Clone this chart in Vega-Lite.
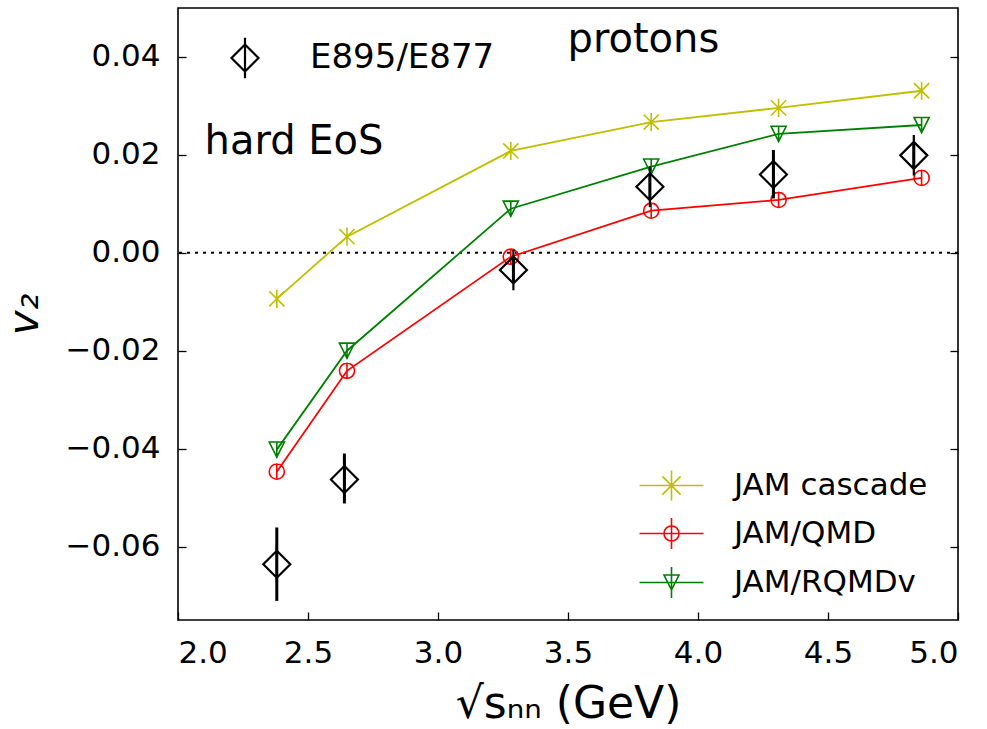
{
 "$schema": "https://vega.github.io/schema/vega-lite/v6.json",
 "width": 780,
 "height": 612,
 "autosize": "none",
 "padding": {"left": 178, "top": 8, "right": 29, "bottom": 109},
 "background": "white",
 "config": {
  "font": "DejaVu Sans",
  "view": {"stroke": "black", "strokeWidth": 1.6},
  "axis": {"grid": false, "domain": false, "ticks": true, "tickColor": "black", "tickWidth": 1.3, "tickSize": -8, "labelColor": "black", "labelFont": "DejaVu Sans", "labelFontSize": 31, "titleFont": "DejaVu Sans", "titleColor": "black", "titleFontWeight": "normal"},
  "legend": {"labelFont": "DejaVu Sans", "labelColor": "black", "labelLimit": 0}
 },
 "datasets": {
  "models": [
   {"model": "JAM cascade", "x": 2.38, "y": -0.0094},
   {"model": "JAM cascade", "x": 2.65, "y": 0.0033},
   {"model": "JAM cascade", "x": 3.28, "y": 0.0208},
   {"model": "JAM cascade", "x": 3.82, "y": 0.0267},
   {"model": "JAM cascade", "x": 4.31, "y": 0.0296},
   {"model": "JAM cascade", "x": 4.86, "y": 0.0331},
   {"model": "JAM/QMD", "x": 2.38, "y": -0.0447},
   {"model": "JAM/QMD", "x": 2.65, "y": -0.0241},
   {"model": "JAM/QMD", "x": 3.28, "y": -0.0008},
   {"model": "JAM/QMD", "x": 3.82, "y": 0.0086},
   {"model": "JAM/QMD", "x": 4.31, "y": 0.0108},
   {"model": "JAM/QMD", "x": 4.86, "y": 0.0153},
   {"model": "JAM/RQMDv", "x": 2.38, "y": -0.0402},
   {"model": "JAM/RQMDv", "x": 2.65, "y": -0.0200},
   {"model": "JAM/RQMDv", "x": 3.28, "y": 0.0090},
   {"model": "JAM/RQMDv", "x": 3.82, "y": 0.0176},
   {"model": "JAM/RQMDv", "x": 4.31, "y": 0.0243},
   {"model": "JAM/RQMDv", "x": 4.86, "y": 0.0261}
  ],
  "exp": [
   {"label": "E895/E877", "x": 2.38, "y": -0.0636, "lo": -0.0711, "hi": -0.0561},
   {"label": "E895/E877", "x": 2.64, "y": -0.0463, "lo": -0.0512, "hi": -0.0410},
   {"label": "E895/E877", "x": 3.29, "y": -0.0035, "lo": -0.0062, "hi": -0.0008},
   {"label": "E895/E877", "x": 3.815, "y": 0.0135, "lo": 0.0108, "hi": 0.0162},
   {"label": "E895/E877", "x": 4.29, "y": 0.0160, "lo": 0.0111, "hi": 0.0210},
   {"label": "E895/E877", "x": 4.83, "y": 0.0199, "lo": 0.0173, "hi": 0.0226}
  ],
  "notes": [
   {"text": "protons", "x": 3.79, "y": 0.0435},
   {"text": "hard EoS", "x": 2.446, "y": 0.0227}
  ]
 },
 "layer": [
  {
   "data": {"values": [{"v": 0}]},
   "mark": {"type": "rule", "strokeDash": [3, 5], "strokeWidth": 2, "color": "black"},
   "encoding": {
    "y": {"field": "v", "type": "quantitative", "scale": {"domain": [-0.075, 0.05], "nice": false, "zero": false}, "axis": null}
   }
  },
  {
   "data": {"name": "models"},
   "mark": {"type": "line", "strokeWidth": 1.8},
   "encoding": {
    "x": {"field": "x", "type": "quantitative", "scale": {"domain": [2, 5], "nice": false, "zero": false},
     "axis": {"values": [2, 2.5, 3, 3.5, 4, 4.5, 5], "format": ".1f", "title": "√sₙₙ (GeV)", "titleFontSize": 44, "labelPadding": 26, "titlePadding": 14}},
    "y": {"field": "y", "type": "quantitative", "scale": {"domain": [-0.075, 0.05], "nice": false, "zero": false},
     "axis": {"values": [-0.06, -0.04, -0.02, 0, 0.02, 0.04], "format": ".2f", "title": "v₂", "titleFontStyle": "italic", "titleFontSize": 42, "labelPadding": 26, "titlePadding": 19}},
    "color": {"field": "model", "type": "nominal", "scale": {"domain": ["JAM cascade", "JAM/QMD", "JAM/RQMDv"], "range": ["#bfbf00", "#ff0000", "#008000"]}, "legend": null},
    "order": {"field": "x", "type": "quantitative"}
   }
  },
  {
   "data": {"name": "models"},
   "mark": {"type": "point", "filled": false, "strokeWidth": 1.6, "opacity": 1},
   "encoding": {
    "x": {"field": "x", "type": "quantitative", "scale": {"domain": [2, 5], "nice": false, "zero": false}, "axis": null},
    "y": {"field": "y", "type": "quantitative", "scale": {"domain": [-0.075, 0.05], "nice": false, "zero": false}, "axis": null},
    "color": {"field": "model", "type": "nominal", "scale": {"domain": ["JAM cascade", "JAM/QMD", "JAM/RQMDv"], "range": ["#bfbf00", "#ff0000", "#008000"]}, "legend": null},
    "shape": {"field": "model", "type": "nominal", "scale": {"domain": ["JAM cascade", "JAM/QMD", "JAM/RQMDv"], "range": [
      "M-1,-1L1,1M-1,1L1,-1M0,-1.2L0,1.2",
      "M-1,0A1,1,0,1,0,1,0A1,1,0,1,0,-1,0ZM0,-1.1L0,1.1",
      "M0,1L-1,-1L1,-1ZM0,-1.1L0,1.1"
     ]}, "legend": null},
    "size": {"value": 230}
   }
  },
  {
   "data": {"name": "models"},
   "mark": {"type": "point", "filled": false, "strokeWidth": 1.6, "opacity": 0},
   "encoding": {
    "x": {"field": "x", "type": "quantitative", "scale": {"domain": [2, 5], "nice": false, "zero": false}, "axis": null},
    "y": {"field": "y", "type": "quantitative", "scale": {"domain": [-0.075, 0.05], "nice": false, "zero": false}, "axis": null},
    "color": {"field": "model", "type": "nominal", "scale": {"domain": ["JAM cascade", "JAM/QMD", "JAM/RQMDv"], "range": ["#bfbf00", "#ff0000", "#008000"]},
     "legend": {"orient": "none", "legendX": 478, "legendY": 462, "title": null, "labelFontSize": 31, "symbolSize": 676, "symbolStrokeWidth": 1.6, "symbolOpacity": 1, "labelOffset": 47, "rowPadding": 10, "padding": 0}},
    "shape": {"field": "model", "type": "nominal", "scale": {"domain": ["JAM cascade", "JAM/QMD", "JAM/RQMDv"], "range": [
      "M-2.46,0L2.46,0M-0.7,-0.7L0.7,0.7M-0.7,0.7L0.7,-0.7M0,-1.15L0,1.15",
      "M-2.46,0L2.46,0M-0.58,0A0.58,0.58,0,1,0,0.58,0A0.58,0.58,0,1,0,-0.58,0M0,-1.2L0,1.2",
      "M-2.46,0L2.46,0M-0.58,-0.58L0.58,-0.58L0,0.58ZM0,-1.2L0,1.2"
     ]},
     "legend": {"orient": "none", "legendX": 478, "legendY": 462, "title": null, "labelFontSize": 31, "symbolSize": 676, "symbolStrokeWidth": 1.6, "symbolOpacity": 1, "labelOffset": 47, "rowPadding": 10, "padding": 0}},
    "size": {"value": 676}
   }
  },
  {
   "data": {"name": "exp"},
   "mark": {"type": "rule", "strokeWidth": 3, "color": "black"},
   "encoding": {
    "x": {"field": "x", "type": "quantitative", "scale": {"domain": [2, 5], "nice": false, "zero": false}, "axis": null},
    "y": {"field": "lo", "type": "quantitative", "scale": {"domain": [-0.075, 0.05], "nice": false, "zero": false},
     "axis": {"orient": "right", "values": [-0.06, -0.04, -0.02, 0, 0.02, 0.04], "labels": false, "title": null}},
    "y2": {"field": "hi"}
   }
  },
  {
   "data": {"name": "exp"},
   "mark": {"type": "point", "filled": false, "strokeWidth": 2.2, "color": "black", "opacity": 1},
   "encoding": {
    "x": {"field": "x", "type": "quantitative", "scale": {"domain": [2, 5], "nice": false, "zero": false}, "axis": null},
    "y": {"field": "y", "type": "quantitative", "scale": {"domain": [-0.075, 0.05], "nice": false, "zero": false}, "axis": null},
    "shape": {"field": "label", "type": "nominal", "scale": {"domain": ["E895/E877"], "range": ["M0,-1L1,0L0,1L-1,0ZM0,-1.5L0,1.5"]},
     "legend": {"orient": "none", "legendX": 50, "legendY": 33, "title": null, "labelFontSize": 34, "symbolSize": 729, "symbolStrokeWidth": 2.2, "symbolStrokeColor": "black", "symbolOpacity": 1, "labelOffset": 48, "padding": 0}},
    "size": {"value": 729}
   }
  },
  {
   "data": {"name": "notes"},
   "mark": {"type": "text", "fontSize": 40, "font": "DejaVu Sans", "color": "black", "align": "center", "baseline": "middle"},
   "encoding": {
    "x": {"field": "x", "type": "quantitative", "scale": {"domain": [2, 5], "nice": false, "zero": false}, "axis": null},
    "y": {"field": "y", "type": "quantitative", "scale": {"domain": [-0.075, 0.05], "nice": false, "zero": false}, "axis": null},
    "text": {"field": "text"}
   }
  }
 ],
 "resolve": {
  "scale": {"shape": "independent", "color": "independent"},
  "legend": {"shape": "independent", "color": "independent"},
  "axis": {"x": "independent", "y": "independent"}
 }
}
